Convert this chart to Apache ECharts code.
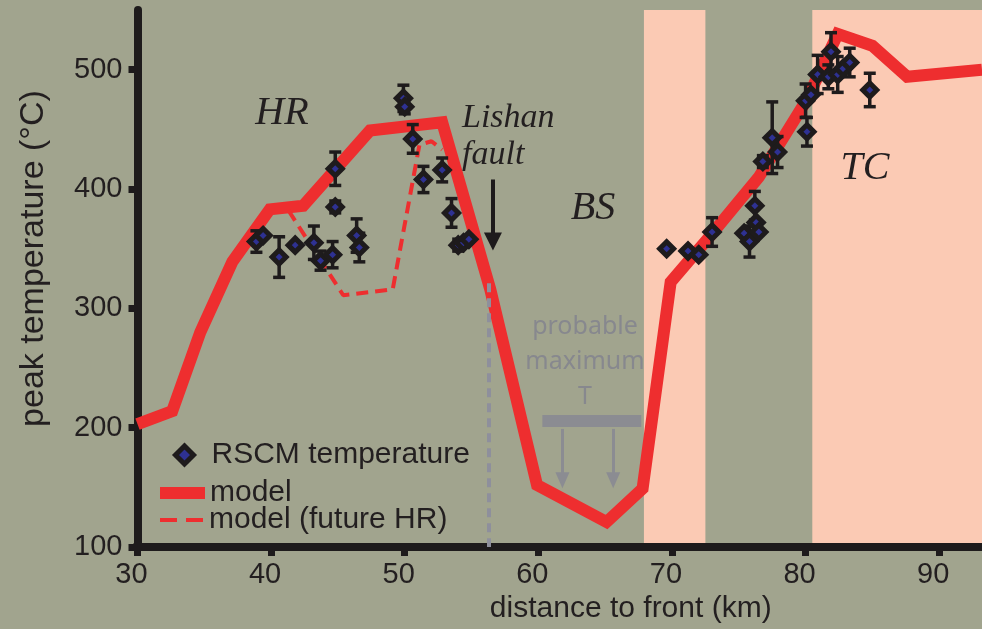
<!DOCTYPE html>
<html><head><meta charset="utf-8">
<script src="https://cdn.jsdelivr.net/npm/echarts@6/dist/echarts.min.js"></script>
<style>html,body{margin:0;padding:0;background:#a1a48e}#c{width:982px;height:629px}</style>
</head><body><div id="c"></div>
<script>
const xTicks=[30,40,50,60,70,80,90];
const yTicks=[100,200,300,400,500];
const modelX=[30,32.6,34.7,37.1,39.9,42.4,47.4,52.8,56.4,59.9,65.1,67.8,69.9,72.8,76.5,80.1,82.4,85.0,87.6,93.2];
const modelT=[203,214,280,339,383,386,449,456,316,152,121,149,322,360,410,475,530,520,494,500];
const futureX=[41.3,45.4,49.1,51.1,52.0,52.8];
const futureT=[382,311,316,437,440,433];
const rscmX=[38.9,39.4,40.6,41.8,43.2,43.7,44.6,44.8,44.8,46.4,46.6,49.9,50.0,50.6,51.4,52.8,53.5,54.0,54.4,54.8,69.6,71.2,72.0,73.0,75.4,75.8,76.2,76.3,76.5,76.8,77.5,77.9,80.0,80.4,80.1,80.9,81.9,81.7,82.4,82.8,83.3,84.8];
const rscmT=[356,361,343,353,355,340,345,417,385,361,351,476,469,442,408,416,380,353,355,358,350,348,345,364,363,356,386,372,364,423,443,431,474,479,448,496,515,494,496,501,506,483];
const rscmErr=[9,0,17,0,14,8,11,14,5,14,12,11,6,12,11,10,12,5,0,0,0,0,0,12,0,13,12,0,0,5,30,13,14,0,12,16,16,10,15,0,12,14];
const bandStart=[67.9,80.5];
const bandEnd=[72.5,93.2];

const X_MIN=30,X_MAX=93.2,Y_MIN=100,Y_MAX=550;
const INK='#1e1b1c', RED='#ee2e2f', GRAY='#8b8c92', BLUE='#2e3192';

const chart=echarts.init(document.getElementById('c'),null,{renderer:'canvas'});
const zip=(a,b)=>a.map((v,i)=>[v,b[i]]);
const legendText={fontSize:30,color:'#231f20',fontFamily:'Liberation Sans',lineHeight:30};

const option={
  animation:false,
  backgroundColor:'#a1a48e',
  grid:{left:137.5,right:0,top:10,bottom:80.5,containLabel:false},
  xAxis:{type:'value',min:X_MIN,max:X_MAX,interval:10,z:3,
    axisLine:{lineStyle:{color:INK,width:8,cap:'square'}},
    axisTick:{show:true,length:9,customValues:xTicks,lineStyle:{width:7,color:INK}},
    axisLabel:{customValues:xTicks,fontSize:29,color:'#231f20',fontFamily:'Liberation Sans',margin:13,padding:[0,12,0,0]},
    splitLine:{show:false},
    name:'distance to front (km)',nameLocation:'middle',nameGap:45,
    nameTextStyle:{fontSize:30,color:'#231f20',fontFamily:'Liberation Sans',padding:[0,0,0,142]}
  },
  yAxis:{type:'value',min:Y_MIN,max:Y_MAX,interval:100,z:3,
    axisLine:{lineStyle:{color:INK,width:8}},
    axisTick:{show:true,length:9,customValues:yTicks,lineStyle:{width:7,color:INK}},
    axisLabel:{customValues:yTicks,fontSize:29,color:'#231f20',fontFamily:'Liberation Sans',margin:15},
    splitLine:{show:false},
    name:'peak temperature (°C)',nameLocation:'middle',nameGap:87,
    nameTextStyle:{fontSize:34,color:'#231f20',fontFamily:'Liberation Sans',padding:[0,0,0,40]}
  },
  legend:[
    {data:[{name:'RSCM temperature',icon:'diamond',itemStyle:{color:BLUE,borderColor:INK,borderWidth:5,opacity:1}}],
     left:173,top:440,itemWidth:18,itemHeight:18,padding:0,selectedMode:false,
     textStyle:Object.assign({padding:[0,0,0,13]},legendText)},
    {data:[{name:'model',icon:'rect',itemStyle:{color:RED,borderWidth:0}}],
     left:160,top:478,itemWidth:45,itemHeight:12,padding:0,selectedMode:false,
     textStyle:legendText},
    {data:[{name:'model (future HR)',icon:'path://M0,0H17V4H0Z M26,0H43V4H26Z',itemStyle:{color:RED,borderWidth:0}}],
     left:160,top:505,itemWidth:45,itemHeight:4,padding:0,selectedMode:false,
     textStyle:legendText}
  ],
  series:[
    {type:'custom',name:'bands',z:1,silent:true,
     data:bandStart.map((s,i)=>[s,bandEnd[i]]),
     encode:{x:[0,1]},
     renderItem:(params,api)=>{
       const p0=api.coord([api.value(0),Y_MAX]);
       const p1=api.coord([api.value(1),Y_MIN]);
       return {type:'rect',shape:{x:p0[0],y:p0[1],width:p1[0]-p0[0],height:p1[1]-p0[1]},style:{fill:'#fbcab4'}};
     }},
    {type:'line',name:'annot',z:2,data:[],silent:true,
     markLine:{silent:true,symbol:['none','none'],label:{show:false},emphasis:{disabled:true},
       data:[
         [{coord:[56.3,321],lineStyle:{color:'#8e8f9c',width:4,type:[9,6]}},{coord:[56.3,Y_MIN]}],
         [{coord:[60.3,206],lineStyle:{color:GRAY,width:12,type:'solid'}},{coord:[67.7,206]}],
         [{coord:[61.8,199],lineStyle:{color:GRAY,width:3,type:'solid'}},{coord:[61.8,156],symbol:'triangle',symbolSize:[14,16]}],
         [{coord:[65.6,199],lineStyle:{color:GRAY,width:3,type:'solid'}},{coord:[65.6,156],symbol:'triangle',symbolSize:[14,16]}],
         [{coord:[56.6,408],lineStyle:{color:INK,width:4,type:'solid'}},{coord:[56.6,356],symbol:'triangle',symbolSize:[18,18]}]
       ]}},
    {type:'line',name:'model',z:4,data:zip(modelX,modelT),showSymbol:false,clip:false,
     lineStyle:{color:RED,width:12,join:'miter'},itemStyle:{color:RED}},
    {type:'line',name:'model (future HR)',z:4,data:zip(futureX,futureT),showSymbol:false,
     lineStyle:{color:RED,width:4,type:[12,7]},itemStyle:{color:RED}},
    {type:'custom',name:'err',z:5,silent:true,
     data:rscmX.map((x,i)=>[x,rscmT[i],rscmErr[i]]),
     encode:{x:0,y:1},
     renderItem:(params,api)=>{
       const x=api.value(0),y=api.value(1),e=api.value(2);
       if(!e) return null;
       const t=api.coord([x,y+e]),b=api.coord([x,y-e]);
       const hw=6,st={stroke:INK,lineWidth:3.5};
       return {type:'group',children:[
         {type:'line',shape:{x1:t[0],y1:t[1],x2:b[0],y2:b[1]},style:st},
         {type:'line',shape:{x1:t[0]-hw,y1:t[1],x2:t[0]+hw,y2:t[1]},style:st},
         {type:'line',shape:{x1:b[0]-hw,y1:b[1],x2:b[0]+hw,y2:b[1]},style:st}
       ]};
     }},
    {type:'scatter',name:'RSCM temperature',z:6,data:zip(rscmX,rscmT),
     symbol:'diamond',symbolSize:14,
     itemStyle:{color:BLUE,borderColor:INK,borderWidth:5,opacity:1}}
  ],
  graphic:[
    {type:'text',x:282,y:113,z:10,style:{text:'HR',fontSize:40,fontStyle:'italic',fontFamily:'Liberation Serif',fill:'#231f20',align:'center',verticalAlign:'middle'}},
    {type:'text',x:462,y:118,z:10,style:{text:'Lishan',fontSize:34,fontStyle:'italic',fontFamily:'Liberation Serif',fill:'#231f20',align:'left',verticalAlign:'middle'}},
    {type:'text',x:462,y:155,z:10,style:{text:'fault',fontSize:34,fontStyle:'italic',fontFamily:'Liberation Serif',fill:'#231f20',align:'left',verticalAlign:'middle'}},
    {type:'text',x:593,y:208,z:10,style:{text:'BS',fontSize:40,fontStyle:'italic',fontFamily:'Liberation Serif',fill:'#231f20',align:'center',verticalAlign:'middle'}},
    {type:'text',x:865,y:168,z:10,style:{text:'TC',fontSize:40,fontStyle:'italic',fontFamily:'Liberation Serif',fill:'#231f20',align:'center',verticalAlign:'middle'}},
    {type:'text',x:585,y:362,z:10,style:{text:'probable\nmaximum\nT',fontSize:25,lineHeight:35,fontFamily:'Noto Sans',fill:'#87888e',align:'center',verticalAlign:'middle'}}
  ]
};
chart.setOption(option);
</script>
</body></html>
